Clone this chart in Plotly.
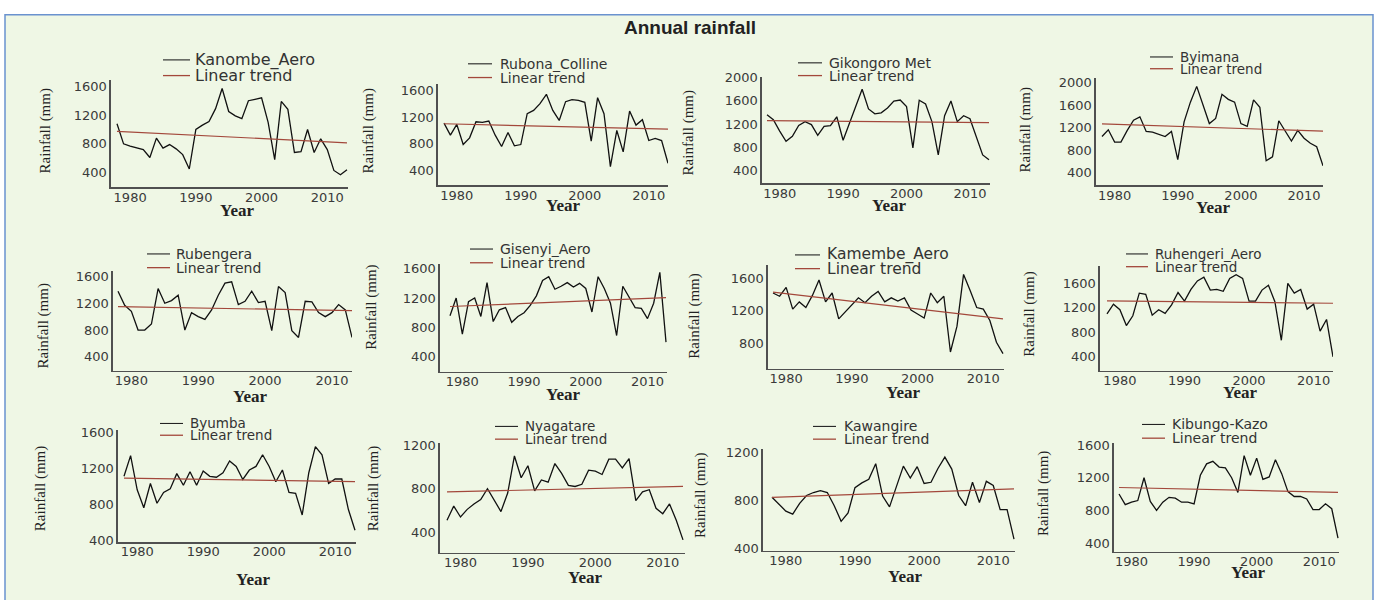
import plotly.graph_objects as go

W, H = 1378, 600

YEARS = list(range(1978, 2014))
XTICKS = [1980, 1990, 2000, 2010]

STATIONS = ["Kanombe_Aero", "Rubona_Colline", "Gikongoro Met", "Byimana",
            "Rubengera", "Gisenyi_Aero", "Kamembe_Aero", "Ruhengeri_Aero",
            "Byumba", "Nyagatare", "Kawangire", "Kibungo-Kazo"]

KANOMBE = [1080, 800, 770, 750, 720, 610, 880, 740, 790, 730, 650, 450,
           1000, 1060, 1110, 1290, 1570, 1250, 1190, 1150, 1400, 1420,
           1440, 1100, 580, 1390, 1280, 680, 690, 1000, 680, 870, 720, 430, 370, 440]
RUBONA = [1110, 930, 1090, 790, 890, 1130, 1120, 1140, 930, 760, 970, 770,
          790, 1250, 1300, 1400, 1540, 1300, 1150, 1430, 1460, 1450,
          1420, 840, 1490, 1250, 460, 1000, 680, 1290, 1080, 1160, 850, 880, 850, 510]
GIKONGORO = [1360, 1276, 1080, 905, 990, 1175, 1242, 1192, 1006, 1160, 1175, 1326,
             922, 1208, 1512, 1798, 1461, 1377, 1394, 1478, 1596, 1613,
             1500, 790, 1610, 1545, 1242, 670, 1343, 1596, 1242, 1343, 1293, 990, 670, 586]
BYIMANA = [1040, 1160, 940, 940, 1150, 1330, 1390, 1130, 1120, 1080, 1040, 1130,
           630, 1300, 1650, 1930, 1600, 1270, 1360, 1790, 1700, 1650,
           1270, 1220, 1690, 1560, 610, 680, 1320, 1150, 960, 1150, 1010, 920, 860, 520]
RUBENGERA = [1380, 1170, 1080, 800, 800, 890, 1420, 1200, 1240, 1320, 800, 1060,
             1000, 960, 1100, 1320, 1500, 1520, 1180, 1230, 1380, 1210,
             1230, 790, 1450, 1360, 790, 690, 1230, 1220, 1060, 1000, 1060, 1180, 1100, 690]
GISENYI = [960, 1200, 710, 1150, 1200, 950, 1410, 880, 1040, 1070, 870, 950,
           1000, 1100, 1230, 1440, 1490, 1320, 1360, 1410, 1350, 1400,
           1330, 1010, 1490, 1330, 1130, 690, 1360, 1210, 1070, 1060, 920, 1130, 1550, 600]
KAMEMBE = [1420, 1380, 1490, 1220, 1310, 1240, 1390, 1580, 1310, 1420, 1100, 1190,
           1270, 1360, 1300, 1380, 1440, 1310, 1360, 1320, 1360, 1210,
           1160, 1110, 1420, 1300, 1380, 690, 1010, 1650, 1450, 1240, 1220, 1080, 810, 670]
RUHENGERI = [1100, 1260, 1170, 910, 1070, 1440, 1420, 1080, 1170, 1110, 1250, 1450,
             1310, 1500, 1640, 1700, 1490, 1500, 1470, 1680, 1740, 1680,
             1310, 1310, 1490, 1570, 1300, 670, 1600, 1440, 1500, 1180, 1260, 820, 1010, 400]
BYUMBA = [1110, 1340, 960, 760, 1030, 810, 930, 970, 1140, 1010, 1160, 1010,
          1170, 1110, 1100, 1150, 1280, 1220, 1075, 1180, 1220, 1350,
          1220, 1050, 1180, 930, 920, 680, 1150, 1440, 1350, 1030, 1080, 1080, 740, 510]
NYAGATARE = [510, 640, 540, 610, 660, 700, 800, 700, 590, 760, 1100, 900,
             1010, 780, 880, 860, 1030, 940, 830, 820, 840, 970,
             960, 930, 1070, 1070, 990, 1075, 690, 770, 790, 620, 570, 660, 510, 330]
KAWANGIRE = [830, 770, 715, 690, 780, 845, 870, 885, 870, 760, 630, 700,
              910, 950, 980, 1110, 840, 750, 920, 1090, 990, 1085,
              945, 955, 1070, 1165, 1065, 845, 760, 955, 786, 963, 928, 727, 727, 482]
KIBUNGO = [1000, 870, 900, 920, 1200, 910, 800, 900, 960, 950, 900, 900,
           880, 1230, 1370, 1400, 1330, 1320, 1200, 1020, 1470, 1230,
           1440, 1180, 1210, 1420, 1250, 1030, 970, 970, 940, 810, 810, 880, 820, 460]

SERIES = [KANOMBE, RUBONA, GIKONGORO, BYIMANA, RUBENGERA, GISENYI,
          KAMEMBE, RUHENGERI, BYUMBA, NYAGATARE, KAWANGIRE, KIBUNGO]

# linear trend values at first and last year
TRENDS = [[975, 815], [1100, 1020], [1260, 1225], [1265, 1135],
          [1150, 1090], [1085, 1205], [1430, 1100], [1315, 1275],
          [1090, 1050], [770, 820], [830, 900], [1080, 1020]]

YTICKS = [[400, 800, 1200, 1600], [400, 800, 1200, 1600],
          [400, 800, 1200, 1600, 2000], [400, 800, 1200, 1600, 2000],
          [400, 800, 1200, 1600], [400, 800, 1200, 1600],
          [800, 1200, 1600], [400, 800, 1200, 1600],
          [400, 800, 1200, 1600], [400, 800, 1200],
          [400, 800, 1200], [400, 800, 1200, 1600]]

# ---------------- layout geometry (pixels) ----------------
GEOM = [
    dict(ax=(111, 348), ay=(76, 185), cal=(1600, 82, 400, 170), dx=(117, 347),
         leg=(163, 190, 55, 71, 193, 16), ylab=(45, 128), xlab=(237, 209)),
    dict(ax=(438, 668), ay=(80, 183), cal=(1600, 86, 400, 168), dx=(444, 668),
         leg=(468, 492, 59, 73, 498, 14), ylab=(368, 128), xlab=(563, 204)),
    dict(ax=(762, 990), ay=(72, 181), cal=(2000, 73, 400, 168), dx=(767, 989),
         leg=(798, 822, 58, 71, 827, 14), ylab=(688, 130), xlab=(889, 204)),
    dict(ax=(1096, 1323), ay=(73, 183), cal=(2000, 78, 400, 170), dx=(1102, 1323),
         leg=(1150, 1173, 52, 64, 1178, 13.5), ylab=(1025, 127), xlab=(1213, 206)),
    dict(ax=(113, 352), ay=(270, 372), cal=(1600, 276, 400, 358), dx=(118, 352),
         leg=(147, 170, 253, 267, 174, 14), ylab=(43, 327), xlab=(250, 398)),
    dict(ax=(440, 667), ay=(263, 373), cal=(1600, 268, 400, 358), dx=(450, 666),
         leg=(470, 493, 248, 262, 498, 14), ylab=(372, 308), xlab=(563, 396)),
    dict(ax=(768, 1004), ay=(264, 370), cal=(1600, 278, 800, 344), dx=(773, 1003),
         leg=(795, 820, 254, 268, 825, 15.5), ylab=(695, 317), xlab=(903, 394)),
    dict(ax=(1100, 1333), ay=(265, 372), cal=(1600, 283, 400, 358), dx=(1107, 1333),
         leg=(1126, 1148, 253, 266, 1153, 13.5), ylab=(1030, 315), xlab=(1240, 394)),
    dict(ax=(118, 356), ay=(433, 547), cal=(1600, 435, 400, 545), dx=(124, 355),
         leg=(160, 183, 426, 438, 188, 13.5), ylab=(40, 493), xlab=(253, 585)),
    dict(ax=(440, 685), ay=(446, 558), cal=(1200, 448, 400, 537), dx=(447, 683),
         leg=(495, 518, 429, 442, 523, 13.5), ylab=(373, 493), xlab=(585, 583)),
    dict(ax=(763, 1015), ay=(452, 556), cal=(1200, 456, 400, 554), dx=(772, 1014),
         leg=(813, 836, 429, 442, 842, 14), ylab=(700, 500), xlab=(905, 582)),
    dict(ax=(1114, 1339), ay=(446, 557), cal=(1600, 448, 400, 548), dx=(1119, 1338),
         leg=(1142, 1165, 427, 441, 1170, 14), ylab=(1043, 498), xlab=(1248, 578)),
]

BG = "#EFF7E5"
TREND_COLOR = "#A3483B"
AXIS_COLOR = "#505050"
TICK_FONT = dict(family="DejaVu Sans", size=13, color="#3a3a3a")


def px(x):
    return x / W


def py(y):
    return 1 - y / H


fig = go.Figure()
annotations = []
shapes = []

shapes.append(dict(type="rect", xref="paper", yref="paper", x0=px(5), x1=px(1373),
                   y0=-0.02, y1=py(9), fillcolor=BG,
                   line=dict(color="#6A92CF", width=1.5), layer="below"))

annotations.append(dict(text="<b>Annual rainfall</b>", x=px(690), y=py(22),
                        xref="paper", yref="paper", showarrow=False,
                        xanchor="center", yanchor="middle",
                        font=dict(family="Liberation Sans", size=19, color="#222")))

for i, (name, vals, trend, yt, g) in enumerate(zip(STATIONS, SERIES, TRENDS, YTICKS, GEOM)):
    k = "" if i == 0 else str(i + 1)
    xa, ya = "x" + k, "y" + k
    d0, d1 = g["dx"]
    ppy = (d1 - d0) / (YEARS[-1] - YEARS[0])
    xr = [YEARS[0] - (d0 - g["ax"][0]) / ppy, YEARS[-1] + (g["ax"][1] - d1) / ppy]
    hv, hp, lv, lp = g["cal"]
    mpp = (hv - lv) / (lp - hp)
    top, bot = g["ay"]
    yr = [lv - (bot - lp) * mpp, hv + (hp - top) * mpp]

    fig.add_trace(go.Scatter(x=YEARS, y=vals, mode="lines", xaxis=xa, yaxis=ya,
                             line=dict(color="#111111", width=1.3), showlegend=False))
    fig.add_trace(go.Scatter(x=[YEARS[0], YEARS[-1]], y=trend, mode="lines",
                             xaxis=xa, yaxis=ya,
                             line=dict(color=TREND_COLOR, width=1.2), showlegend=False))

    fig.update_layout({
        "xaxis" + k: dict(domain=[px(g["ax"][0]), px(g["ax"][1])], range=xr,
                          anchor=ya, tickvals=XTICKS, ticks="", showgrid=False,
                          zeroline=False, showline=True, linecolor=AXIS_COLOR,
                          linewidth=1.6, tickfont=TICK_FONT, fixedrange=True,
                          ticklabelstandoff=-3),
        "yaxis" + k: dict(domain=[py(bot), py(top)], range=yr, anchor=xa,
                          tickvals=yt, ticks="", showgrid=False, zeroline=False,
                          showline=True, linecolor=AXIS_COLOR, linewidth=1.6,
                          tickfont=TICK_FONT, fixedrange=True),
    })

    lx0, lx1, ly1, ly2, tx, fs = g["leg"]
    shapes.append(dict(type="line", xref="paper", yref="paper", x0=px(lx0), x1=px(lx1),
                       y0=py(ly1), y1=py(ly1), line=dict(color="#222", width=1.1)))
    shapes.append(dict(type="line", xref="paper", yref="paper", x0=px(lx0), x1=px(lx1),
                       y0=py(ly2), y1=py(ly2), line=dict(color=TREND_COLOR, width=1.3)))
    for txt, yy in ((name, ly1), ("Linear trend", ly2)):
        annotations.append(dict(text=txt, x=px(tx), y=py(yy), xref="paper", yref="paper",
                                showarrow=False, xanchor="left", yanchor="middle",
                                font=dict(family="DejaVu Sans", size=fs, color="#333")))
    annotations.append(dict(text="Rainfall (mm)", x=px(g["ylab"][0]), y=py(g["ylab"][1]),
                            xref="paper", yref="paper", showarrow=False, textangle=-90,
                            xanchor="center", yanchor="middle",
                            font=dict(family="Liberation Serif", size=15, color="#222")))
    annotations.append(dict(text="<b>Year</b>", x=px(g["xlab"][0]), y=py(g["xlab"][1]),
                            xref="paper", yref="paper", showarrow=False,
                            xanchor="center", yanchor="middle",
                            font=dict(family="Liberation Serif", size=17, color="#222")))

fig.update_layout(width=W, height=H, margin=dict(l=0, r=0, t=0, b=0),
                  paper_bgcolor="white", plot_bgcolor="rgba(0,0,0,0)",
                  showlegend=False, annotations=annotations, shapes=shapes)

fig.write_html(
    "out.html",
    config={"displayModeBar": False, "staticPlot": True},
    post_script=("document.body.style.margin='0px';document.body.style.padding='0px';"
                 "var gd=document.getElementById('{plot_id}');"
                 "gd.style.position='absolute';gd.style.top='0px';gd.style.left='0px';"),
)
